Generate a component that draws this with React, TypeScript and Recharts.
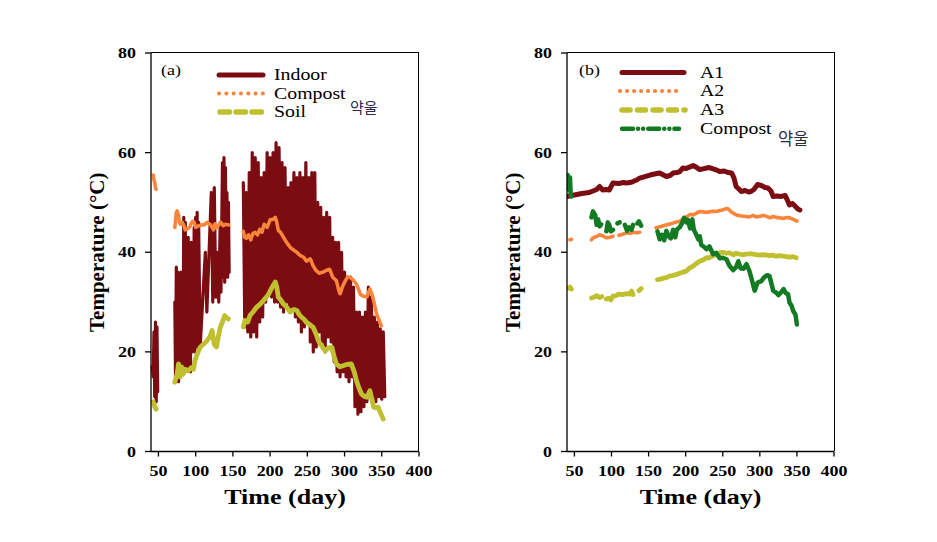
import React from 'react';
import { LineChart, Line, XAxis, YAxis } from 'recharts';

type Pt = [number, number];

const dayTicks = [50, 100, 150, 200, 250, 300, 350, 400];
const tempTicks = [0, 20, 40, 60, 80];

// panel (a)
const indoorEarly: Pt[] = [[42, 17], [43, 15], [44, 24], [45, 11], [46, 26], [47, 10], [48, 25], [49, 12]];
const indoorMid: Pt[] = [
  [72, 30], [73, 14], [74, 37], [75, 16], [76, 36], [77, 14], [78, 34], [79, 17], [80, 36], [81, 19],
  [82, 28], [83, 17], [84, 47], [85, 17], [86, 46], [87, 20], [88, 40], [89, 17], [90, 43], [91, 18],
  [92, 38], [93, 16], [94, 42], [95, 20], [96, 36], [97, 21], [98, 45], [99, 20], [100, 47], [101, 22],
  [102, 48], [103, 21], [104, 46], [106, 21], [113, 40], [115, 28], [121, 52], [123, 30], [125, 53],
  [127, 31], [129, 40], [131, 30], [133, 46], [134, 32], [136, 58], [137, 35], [138, 59], [139, 34],
  [140, 57], [141, 38], [142, 52], [143, 35], [144, 50], [145, 36],
];
const indoorLate: Pt[] = [
  [164, 54], [166, 25], [168, 52], [170, 24], [172, 56], [174, 23], [176, 60], [178, 24], [180, 59], [182, 23],
  [184, 58], [186, 26], [188, 55], [190, 27], [192, 56], [194, 30], [196, 60], [198, 32], [200, 59], [202, 31],
  [204, 60], [206, 30], [208, 62], [210, 30], [212, 61], [214, 29], [216, 58], [218, 28], [220, 57], [222, 30],
  [224, 53], [226, 28], [228, 54], [230, 29], [232, 56], [234, 27], [236, 55], [238, 26], [240, 56], [242, 24],
  [244, 55], [246, 25], [248, 58], [250, 26], [252, 55], [254, 22], [256, 56], [258, 20], [260, 56], [262, 21],
  [264, 50], [266, 24], [268, 49], [270, 22], [272, 47], [274, 20], [276, 48], [278, 23], [280, 47], [282, 22],
  [284, 43], [286, 18], [288, 42], [290, 16], [292, 42], [294, 15], [296, 40], [298, 16], [300, 36], [302, 15],
  [304, 35], [306, 14], [308, 35], [310, 15], [312, 33], [314, 9], [316, 28], [318, 7.5], [320, 28], [322, 8],
  [324, 27], [326, 9], [328, 28], [330, 10], [332, 33], [334, 11.5], [336, 31], [338, 11], [340, 27], [342, 10],
  [344, 26], [346, 11], [348, 24.6], [350, 10.5], [352, 24], [354, 11],
];

const compostAEarly: Pt[] = [[43, 55.5], [44, 54.5], [45, 54], [46, 53], [47, 52.5]];
const compostAMid: Pt[] = [
  [72, 45], [73, 46.5], [74, 48], [75, 48.3], [77, 47.5], [78, 46], [80, 45.5], [82, 46], [84, 45.4],
  [86, 44.5], [90, 44.8], [92, 45], [94, 45.8], [96, 46.2], [98, 46], [100, 45], [104, 45.3], [108, 45.5],
  [112, 45.5], [115, 46], [120, 45.5], [124, 44.5], [126, 45.7], [128, 44.8], [131, 45.5], [134, 46],
  [137, 45.3], [140, 45.6], [144, 45.5],
];
const compostALate: Pt[] = [
  [164, 44.2], [166, 43], [168, 42.8], [171, 43.5], [174, 42.5], [177, 43.8], [180, 44], [183, 43.5],
  [186, 44.6], [189, 44], [192, 45.6], [196, 45], [200, 46.5], [204, 46.6], [207, 47], [209, 46], [211, 44.4],
  [214, 44], [218, 43], [222, 42], [227, 41], [231, 40.5], [236, 40], [240, 39.4], [245, 39], [249, 38.2],
  [254, 38.7], [258, 37.2], [262, 36.3], [266, 35.8], [271, 36], [276, 36.4], [280, 36.6], [284, 35],
  [289, 34.3], [292, 32.5], [294, 31.6], [297, 33], [300, 34], [304, 35], [307, 35], [311, 34.5], [316, 33.6],
  [319, 32.5], [321, 31.6], [325, 31.2], [330, 31], [334, 32.6], [337, 31.5], [339, 30.3], [341, 29],
  [343, 27.6], [346, 26.5], [350, 25],
];

const soilEarly: Pt[] = [[43, 10], [45, 9], [47, 8.5]];
const soilMid: Pt[] = [
  [72, 13.9], [75, 15.5], [77, 17.6], [79, 15], [81, 17], [83, 15.5], [86, 16.5], [90, 16.2], [94, 16.8],
  [97, 16.5], [99, 18.2], [102, 19.5], [106, 20.9], [110, 21.5], [115, 22.2], [119, 23], [122, 24.3],
  [125, 21.5], [128, 21], [131, 23.5], [133, 24.9], [136, 26], [139, 27.3], [142, 26.8], [144, 26.6],
];
const soilLate: Pt[] = [
  [164, 25], [166, 26.3], [170, 26], [173, 27.3], [177, 28], [182, 29], [186, 29.5], [191, 30.3], [195, 31],
  [198, 31.6], [201, 32.5], [204, 33.3], [207, 34], [209, 33], [211, 31], [214, 30.5], [218, 29.6], [222, 29],
  [227, 28], [232, 28.5], [236, 28.3], [239, 27.5], [242, 27], [246, 26.5], [249, 25.9], [253, 25.5],
  [258, 24.9], [262, 23.5], [265, 22.2], [270, 21], [274, 20.2], [278, 20.8], [283, 20.9], [286, 19],
  [289, 17.6], [294, 17], [298, 17.2], [304, 17.5], [309, 17.6], [313, 16], [316, 14.2], [320, 12.5],
  [323, 11.5], [327, 11], [330, 10.9], [334, 12.2], [336, 11], [339, 8.9], [342, 8.8], [345, 8.9],
  [349, 7.5], [352, 6.5],
];

// panel (b)
const a1: Pt[] = [
  [40, 51.2], [50, 51.5], [60, 51.8], [70, 52], [75, 52.3], [80, 52.6], [84, 53.2], [88, 52.5], [93, 52.6],
  [97, 52.5], [102, 53.9], [110, 53.8], [116, 54], [120, 53.9], [125, 54], [129, 54.2], [134, 54.5],
  [138, 54.9], [145, 55.2], [152, 55.5], [158, 55.7], [165, 55.9], [170, 55.5], [174, 55.2], [179, 55.4],
  [183, 55.9], [188, 56], [192, 56.2], [196, 56.9], [200, 56.8], [205, 57.1], [210, 57.4], [215, 57],
  [219, 56.6], [225, 56.8], [232, 57], [240, 56.6], [246, 56.2], [252, 56.3], [257, 56], [262, 55.9],
  [265, 55], [268, 53.2], [271, 52.8], [275, 52.2], [280, 52.4], [285, 52.1], [288, 52.2], [292, 52.6],
  [297, 53.6], [302, 53.4], [307, 53], [311, 52.9], [315, 52.3], [318, 51.2], [323, 51.3], [329, 51.2],
  [334, 51.4], [337, 50.5], [340, 49.5], [344, 49.8], [348, 49.2], [351, 48.7], [354, 48.5],
];

const a2Early: Pt[] = [[44, 42.5], [46, 42.6]];
const a2Mid: Pt[] = [[73, 42.5], [75, 42.9], [80, 43.2], [84, 43.5], [88, 43.3], [93, 42.9], [98, 43], [102, 43.2]];
const a2Mid2: Pt[] = [[110, 43.4], [115, 43.6], [120, 43.9], [125, 43.8], [130, 44], [134, 43.9], [138, 44]];
const a2Late: Pt[] = [
  [160, 44.9], [165, 45.1], [170, 45.3], [174, 45.5], [180, 45.7], [186, 46], [192, 46.2], [197, 46.8],
  [202, 47.2], [206, 47.6], [210, 47.5], [215, 47.9], [219, 48.2], [228, 48], [235, 48.2], [241, 48.2],
  [247, 48.4], [252, 48.6], [256, 48.8], [259, 48.5], [262, 48], [265, 47.8], [268, 47.5], [274, 47.3],
  [280, 47.2], [286, 47.1], [291, 47.4], [295, 47.1], [300, 47.2], [305, 47.4], [309, 47.2], [314, 46.9],
  [318, 47.2], [322, 47], [327, 46.9], [332, 46.8], [336, 47], [340, 46.9], [345, 46.6], [348, 46.4], [351, 46.2],
];

const a3Early: Pt[] = [[42, 32.8], [44, 33], [46, 32.6]];
const a3Mid: Pt[] = [[73, 30.8], [77, 31], [80, 31.3], [84, 30.9], [87, 31.1]];
const a3Mid2: Pt[] = [[93, 30.6], [96, 30.8], [99, 30.4], [102, 31.2]];
const a3Mid3: Pt[] = [[106, 31.3], [110, 31.6], [115, 31.5], [120, 31.7], [124, 31.6], [127, 32.2], [129, 31.5]];
const a3Mid4: Pt[] = [[137, 32.3], [140, 32.7]];
const a3Late: Pt[] = [
  [162, 34.5], [166, 34.6], [170, 34.8], [174, 34.9], [178, 35.2], [182, 35.3], [187, 35.5], [192, 35.8],
  [196, 36], [201, 36.2], [205, 36.8], [210, 37.2], [215, 37.8], [219, 38.2], [224, 38.5], [228, 38.9],
  [232, 38.9], [237, 39.3], [241, 39.5], [246, 39.9], [250, 40], [255, 39.8], [259, 39.9], [264, 39.5],
  [268, 39.8], [273, 39.6], [277, 39.5], [282, 39.6], [286, 39.7], [291, 39.6], [295, 39.5], [300, 39.4],
  [304, 39.5], [309, 39.4], [313, 39.3], [318, 39.4], [322, 39.2], [327, 39.3], [331, 39.2], [336, 39.1],
  [340, 39], [345, 39.1], [349, 38.9],
];

const compostBEarly: Pt[] = [[41, 55.5], [42, 54.5], [43, 52.5], [44, 55], [45, 51.5], [46, 51.2]];
const compostBMid: Pt[] = [[73, 47], [75, 48.2], [78, 47.5], [80, 45.5], [82, 46.6], [84, 45.2], [86, 45.6]];
const compostBMid2: Pt[] = [[93, 44.2], [95, 46], [97, 45.5], [99, 44.2], [102, 44.5]];
const compostBMid3: Pt[] = [[108, 45.8], [111, 46]];
const compostBMid4: Pt[] = [[118, 45.5], [121, 44.3], [124, 45], [127, 44.5], [129, 45.5]];
const compostBMid5: Pt[] = [[135, 45.8], [137, 46.2], [140, 45.3]];
const compostBLate: Pt[] = [
  [162, 44.2], [165, 42.6], [168, 43.5], [171, 42.4], [174, 44.3], [177, 43.2], [180, 42.8], [183, 44.5],
  [186, 43], [188, 44.5], [192, 45], [195, 45.8], [198, 46.9], [201, 46], [203, 46.5], [206, 44.8],
  [209, 46.6], [211, 44.5], [214, 43.6], [217, 42.6], [219, 43.2], [221, 41.5], [224, 41.2], [228, 40.6],
  [232, 41.2], [237, 39.6], [241, 39.9], [246, 38.8], [250, 38.9], [255, 38.6], [259, 37.3], [264, 36.4],
  [268, 37], [271, 38.2], [274, 36.8], [278, 36.7], [282, 37.6], [286, 36.2], [289, 34.6], [293, 32.3],
  [297, 33.9], [302, 34.2], [306, 35], [310, 35.4], [313, 35.2], [316, 33.5], [318, 32.3], [322, 31.9],
  [325, 31.4], [329, 32], [332, 32.6], [335, 31.8], [338, 31.6], [340, 29.9], [343, 29.2], [345, 28.2],
  [348, 27.5], [350, 25.5],
];

const RED = '#7b0c12';
const ORANGE = '#f9843a';
const OLIVE = '#bfbf30';
const GREEN = '#127a22';
const FONT = '"Liberation Serif", "Times New Roman", serif';
const SX = 1.24; // the original figure is stretched horizontally

// join segments, a null row between them breaks the line
function toSeries(...segs: Pt[][]) {
  const out: { d: number; v: number | null }[] = [];
  segs.forEach((s, i) => {
    if (i > 0) out.push({ d: (segs[i - 1][segs[i - 1].length - 1][0] + s[0][0]) / 2, v: null });
    s.forEach(([d, v]) => out.push({ d, v }));
  });
  return out;
}

const indoor = toSeries(indoorEarly, indoorMid, indoorLate);
const compostA = toSeries(compostAEarly, compostAMid, compostALate);
const soil = toSeries(soilEarly, soilMid, soilLate);
const seriesA1 = toSeries(a1);
const seriesA2 = toSeries(a2Early, a2Mid, a2Mid2, a2Late);
const seriesA3 = toSeries(a3Early, a3Mid, a3Mid2, a3Mid3, a3Mid4, a3Late);
const compostB = toSeries(compostBEarly, compostBMid, compostBMid2, compostBMid3, compostBMid4, compostBMid5, compostBLate);

function XTick(props: any) {
  const { x, y, payload } = props;
  return (
    <g transform={`translate(${x},${y + 17}) scale(${SX},1)`}>
      <text textAnchor="middle" fontFamily={FONT} fontWeight="bold" fontSize={14.5} fill="#000">
        {payload.value}
      </text>
    </g>
  );
}

function YTick(props: any) {
  const { x, y, payload } = props;
  return (
    <g transform={`translate(${x - 7},${y + 5}) scale(${SX},1)`}>
      <text textAnchor="end" fontFamily={FONT} fontWeight="bold" fontSize={14.5} fill="#000">
        {payload.value}
      </text>
    </g>
  );
}

const xTitle = (props: any) => {
  const vb = props.viewBox;
  return (
    <g transform={`translate(${vb.x + vb.width / 2},${vb.y + 52}) scale(${SX},1)`}>
      <text textAnchor="middle" fontFamily={FONT} fontWeight="bold" fontSize={21} fill="#000">
        Time (day)
      </text>
    </g>
  );
};

const yTitle = (cx: number) => (props: any) => {
  const vb = props.viewBox;
  const cy = vb.y + vb.height / 2;
  return (
    <text
      x={cx}
      y={cy}
      dy="0.35em"
      transform={`rotate(-90 ${cx} ${cy})`}
      textAnchor="middle"
      fontFamily={FONT}
      fontWeight="bold"
      fontSize={21}
      fill="#000"
    >
      Temperature (°C)
    </text>
  );
};

const axisStroke = { stroke: '#000', strokeWidth: 1.3 };

// shared axes, rendered inline as direct children of each chart
function axes(yWidth: number, titleX: number) {
  return [
    <XAxis
      key="x"
      type="number"
      dataKey="d"
      domain={[40, 400]}
      ticks={dayTicks}
      interval={0}
      allowDataOverflow
      height={90.5}
      tickSize={5}
      axisLine={axisStroke}
      tickLine={axisStroke}
      tick={<XTick />}
      label={xTitle}
    />,
    <YAxis
      key="y"
      type="number"
      domain={[0, 80]}
      ticks={tempTicks}
      interval={0}
      allowDataOverflow
      width={yWidth}
      tickSize={6}
      axisLine={axisStroke}
      tickLine={axisStroke}
      tick={<YTick />}
      label={yTitle(titleX)}
    />,
  ];
}

const lineBase = {
  type: 'linear' as const,
  dataKey: 'v',
  dot: false,
  activeDot: false,
  isAnimationActive: false,
  strokeLinecap: 'round' as const,
  strokeLinejoin: 'round' as const,
};

// legend and panel letters
function Overlay() {
  const txt = { fontFamily: FONT, fontSize: 16, fill: '#000' };
  const t = (x: number, y: number, s: string, extra: any = {}) => (
    <g transform={`translate(${x},${y}) scale(${SX},1)`}>
      <text {...txt} {...extra}>{s}</text>
    </g>
  );
  const kr = { fontFamily: '"Noto Sans CJK KR", sans-serif', fontSize: 15, fill: '#2a2a48' };
  return (
    <svg width={937} height={542} style={{ position: 'absolute', left: 0, top: 0, pointerEvents: 'none' }}>
      {t(161, 75, '(a)', { fontSize: 14.5 })}
      <line x1={219} x2={263} y1={75} y2={75} stroke={RED} strokeWidth={5} strokeLinecap="round" />
      {t(274, 80, 'Indoor')}
      <line x1={219} x2={263} y1={93.5} y2={93.5} stroke={ORANGE} strokeWidth={4} strokeDasharray="0.1 7.2" strokeLinecap="round" />
      {t(274, 98.5, 'Compost')}
      <line x1={220} x2={262} y1={112} y2={112} stroke={OLIVE} strokeWidth={5.5} strokeDasharray="9.5 6.5" strokeLinecap="round" />
      {t(274, 117, 'Soil')}
      <text x={350} y={113} {...kr}>약울</text>

      {t(579, 75, '(b)', { fontSize: 14.5 })}
      <line x1={622} x2={684} y1={72.5} y2={72.5} stroke={RED} strokeWidth={5} strokeLinecap="round" />
      {t(700, 77.5, 'A1')}
      <line x1={620} x2={683} y1={91} y2={91} stroke={ORANGE} strokeWidth={4} strokeDasharray="0.1 6.9" strokeLinecap="round" />
      {t(700, 96, 'A2')}
      <line x1={622} x2={685} y1={110} y2={110} stroke={OLIVE} strokeWidth={5.5} strokeDasharray="8 7.5" strokeLinecap="round" />
      {t(700, 115, 'A3')}
      <line x1={622} x2={679} y1={128.7} y2={128.7} stroke={GREEN} strokeWidth={4.5} strokeDasharray="11 5 0.1 5 0.1 5" strokeLinecap="round" />
      {t(700, 134, 'Compost')}
      <text x={778} y={145} {...kr} fontSize={16.5}>약울</text>
    </svg>
  );
}

// plot box outline as plain HTML borders (top and right edges)
const frameA = { position: 'absolute' as const, left: 151, top: 52, width: 268, height: 399, borderTop: '1.5px solid #000', borderRight: '1.5px solid #000', boxSizing: 'border-box' as const, pointerEvents: 'none' as const };
const frameB = { ...frameA, left: 567, width: 268 };

export default function App() {
  return (
    <div style={{ position: 'absolute', left: 0, top: 0, width: 937, height: 542, background: '#fff' }}>
      <div style={{ position: 'absolute', left: 0, top: 0 }}>
        <LineChart width={460} height={542} margin={{ top: 53, right: 41, bottom: 0, left: 0 }}>
          {axes(151, 97)}
          <Line {...lineBase} data={indoor} stroke={RED} strokeWidth={3.2} />
          <Line {...lineBase} data={compostA} stroke={ORANGE} strokeWidth={3.6} strokeDasharray="2.5 1.5" />
          <Line {...lineBase} data={soil} stroke={OLIVE} strokeWidth={4.8} />
        </LineChart>
      </div>
      <div style={{ position: 'absolute', left: 420, top: 0 }}>
        <LineChart width={460} height={542} margin={{ top: 53, right: 46, bottom: 0, left: 0 }}>
          {axes(147, 93)}
          <Line {...lineBase} data={seriesA1} stroke={RED} strokeWidth={5} />
          <Line {...lineBase} data={seriesA2} stroke={ORANGE} strokeWidth={3.6} strokeDasharray="2.5 1.5" />
          <Line {...lineBase} data={seriesA3} stroke={OLIVE} strokeWidth={4.8} />
          <Line {...lineBase} data={compostB} stroke={GREEN} strokeWidth={4.5} />
        </LineChart>
      </div>
      <div style={frameA} />
      <div style={frameB} />
      <Overlay />
    </div>
  );
}
